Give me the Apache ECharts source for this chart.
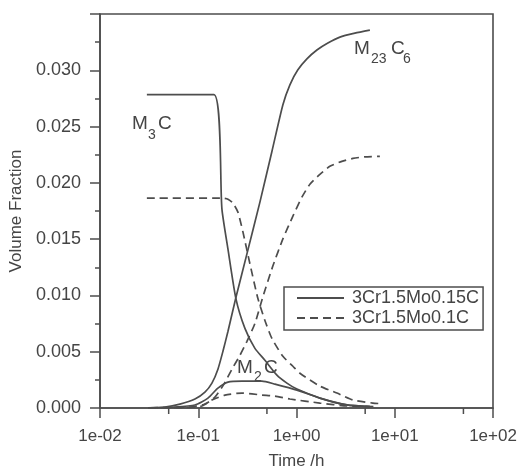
<!DOCTYPE html>
<html>
<head>
<meta charset="utf-8">
<script src="https://cdn.jsdelivr.net/npm/echarts@6/dist/echarts.min.js"></script>
<style>
html,body{margin:0;padding:0;background:#fff;}
#chart{width:521px;height:475px;}
</style>
</head>
<body>
<div id="chart"></div>
<script>
// ---- data (time in h, volume fraction) ----
const legendSolid = '3Cr1.5Mo0.15C';
const legendDashed = '3Cr1.5Mo0.1C';

const m3cSolidT = [0.030, 0.1444, 0.1742, 0.2005, 0.2417, 0.2986, 0.3774, 0.4770, 0.6319, 0.7985, 1.0095, 1.730, 3.257, 5.581];
const m3cSolidV = [0.02783, 0.02783, 0.01767, 0.01413, 0.00972, 0.00707, 0.0053, 0.00424, 0.00292, 0.00221, 0.00168, 0.00088, 0.00027, 0.00013];

const m2cSolidT = [0.0308, 0.0579, 0.0926, 0.1255, 0.1586, 0.2005, 0.2783, 0.4446, 0.6031, 1.0095, 1.730, 3.257, 5.581];
const m2cSolidV = [0.00002, 0.00009, 0.00027, 0.00088, 0.00177, 0.0023, 0.00239, 0.00239, 0.00212, 0.00159, 0.00088, 0.00027, 0.00013];

const m23SolidT = [0.0308, 0.0458, 0.0651, 0.0926, 0.1170, 0.1378, 0.1586, 0.1784, 0.2005, 0.2417, 0.3129, 0.4243, 0.5620, 0.7271, 0.8567, 1.033, 1.276, 1.613, 2.086, 2.764, 3.928, 5.581];
const m23SolidV = [0.00002, 0.00009, 0.00035, 0.0008, 0.00141, 0.00221, 0.00345, 0.00504, 0.0068, 0.00981, 0.01369, 0.01829, 0.02279, 0.02694, 0.02871, 0.03004, 0.03101, 0.0318, 0.03242, 0.03295, 0.0333, 0.03357];

const m3cDashT = [0.030, 0.1784, 0.2005, 0.2254, 0.2534, 0.2849, 0.3356, 0.4049, 0.4770, 0.5620, 0.7271, 0.9192, 1.083, 1.730, 2.576, 3.749, 5.987, 6.8];
const m3cDashV = [0.01864, 0.01864, 0.01855, 0.0182, 0.0174, 0.01564, 0.01281, 0.00972, 0.00777, 0.00618, 0.00459, 0.00371, 0.00309, 0.00194, 0.00133, 0.00071, 0.00044, 0.0004];

const m2cDashT = [0.0308, 0.0732, 0.1090, 0.1378, 0.1869, 0.2783, 0.4446, 0.6031, 0.8567, 1.730, 3.257, 6.8];
const m2cDashV = [0.00002, 0.00004, 0.00018, 0.00071, 0.00115, 0.00133, 0.00115, 0.00106, 0.0008, 0.00044, 0.00018, 0.00013];

const m23DashT = [0.0323, 0.0823, 0.1170, 0.1479, 0.1826, 0.2203, 0.2656, 0.3129, 0.3774, 0.4551, 0.5754, 0.7271, 0.9192, 1.135, 1.369, 1.730, 2.186, 2.895, 3.749, 4.964, 7.054];
const m23DashV = [0.00002, 0.00009, 0.00035, 0.00097, 0.00212, 0.00345, 0.00468, 0.00592, 0.00751, 0.00989, 0.01263, 0.01502, 0.01705, 0.01873, 0.01988, 0.02076, 0.02147, 0.02191, 0.02217, 0.02231, 0.02235];

const xMinorTicks = [0.05, 0.5, 5, 50];
const yTickMin = 0, yTickMax = 0.035, yTickStep = 0.005;

// ---- chart ----
const INK = '#4d4d4d';
const TXT = '#454545';
const FONT = '"Liberation Sans", Arial, sans-serif';

function pairs(t, v) { return t.map((x, i) => [x, v[i]]); }

function lineSeries(name, t, v, dashed) {
  return {
    name: name, type: 'line', data: pairs(t, v),
    symbol: 'none', showSymbol: false, smooth: 0.2, silent: true,
    lineStyle: { color: INK, width: 1.7, type: dashed ? [8, 5] : 'solid' },
    itemStyle: { color: INK }
  };
}

function fmtX(v) {
  const e = Math.round(Math.log10(v));
  return '1e' + (e < 0 ? '-' : '+') + String(Math.abs(e)).padStart(2, '0');
}

const chart = echarts.init(document.getElementById('chart'), null, { renderer: 'canvas' });

function txt(x, y, s, size) {
  return { type: 'text', x: x, y: y, silent: true,
    style: { text: s, font: size + 'px ' + FONT, fill: TXT, align: 'left', verticalAlign: 'middle' } };
}

chart.setOption({
  backgroundColor: '#fff',
  animation: false,
  textStyle: { fontFamily: FONT },
  grid: { left: 100, right: 28, top: 14, bottom: 65, show: true, borderColor: INK, borderWidth: 1.6, backgroundColor: 'transparent' },
  legend: {
    data: [
      { name: legendSolid, itemStyle: { opacity: 0 } },
      { name: legendDashed, itemStyle: { opacity: 0 } }
    ],
    orient: 'vertical', left: 284, top: 287,
    itemWidth: 47, itemHeight: 14, itemGap: 2,
    padding: [2, 4, 3, 12],
    borderColor: INK, borderWidth: 1.5,
    selectedMode: false,
    textStyle: { fontSize: 18, color: TXT, fontFamily: FONT, padding: [0, 0, 0, 3] }
  },
  xAxis: {
    type: 'log', logBase: 10, min: 0.01, max: 100,
    name: 'Time /h', nameLocation: 'middle', nameGap: 45,
    nameTextStyle: { fontSize: 17, color: TXT, fontFamily: FONT },
    axisLine: { show: true, lineStyle: { color: INK, width: 1.6 } },
    axisTick: { show: true, length: 10, lineStyle: { color: INK, width: 1.5 } },
    minorTick: { show: false },
    splitLine: { show: false },
    axisLabel: { fontSize: 17, color: TXT, margin: 20, formatter: fmtX, fontFamily: FONT }
  },
  yAxis: {
    type: 'value', min: yTickMin, max: yTickMax, interval: yTickStep,
    name: 'Volume Fraction', nameLocation: 'middle', nameGap: 72,
    nameTextStyle: { fontSize: 17, color: TXT, fontFamily: FONT },
    axisLine: { show: true, lineStyle: { color: INK, width: 1.6 } },
    axisTick: { show: true, length: 10, lineStyle: { color: INK, width: 1.5 } },
    minorTick: { show: true, splitNumber: 2, length: 5, lineStyle: { color: INK, width: 1.5 } },
    splitLine: { show: false },
    axisLabel: { fontSize: 18, color: TXT, margin: 19, showMaxLabel: false, formatter: v => v.toFixed(3), fontFamily: FONT }
  },
  series: [
    lineSeries(legendSolid, m3cSolidT, m3cSolidV, false),
    lineSeries(legendSolid, m2cSolidT, m2cSolidV, false),
    lineSeries(legendSolid, m23SolidT, m23SolidV, false),
    lineSeries(legendDashed, m3cDashT, m3cDashV, true),
    lineSeries(legendDashed, m2cDashT, m2cDashV, true),
    lineSeries(legendDashed, m23DashT, m23DashV, true),
    {
      type: 'custom', name: 'xminor', silent: true, clip: false,
      data: xMinorTicks.map(v => [v, 0]),
      renderItem: function (params, api) {
        const p = api.coord([api.value(0), api.value(1)]);
        return { type: 'line', shape: { x1: p[0], y1: p[1], x2: p[0], y2: p[1] + 6 },
          style: { stroke: INK, lineWidth: 1.5 } };
      }
    }
  ],
  graphic: [
    txt(132, 124, 'M', 19), txt(148, 135, '3', 14), txt(158, 124, 'C', 19),
    txt(354, 49, 'M', 19), txt(371, 59, '23', 14), txt(391, 49, 'C', 19), txt(403, 59, '6', 14),
    txt(237, 368, 'M', 19), txt(254, 377, '2', 14), txt(264, 368, 'C', 19)
  ]
});
</script>
</body>
</html>
